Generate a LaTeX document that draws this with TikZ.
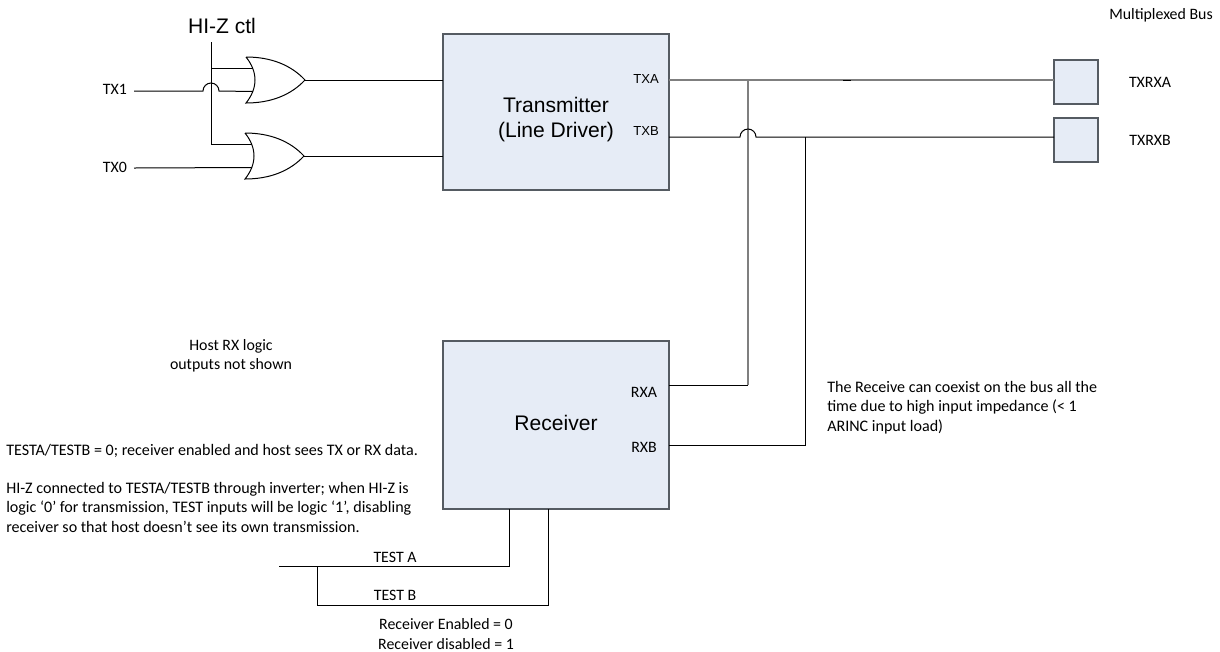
\documentclass[tikz,border=0pt]{standalone}
\usepackage{fontspec}
\setmainfont{Carlito}
\newfontfamily\arialfont{Liberation Sans}
\usetikzlibrary{positioning, calc}
\definecolor{boxfill}{HTML}{E6ECF6}
\definecolor{boxline}{HTML}{555B62}
\definecolor{busgrey}{HTML}{7F7F7F}
\tikzset{
    bigbox/.style={draw=boxline, fill=boxfill, line width=.9pt, minimum width=169.5pt, minimum height=117pt, outer sep=0pt, inner sep=0pt},
    portbox/.style={draw=boxline, fill=boxfill, line width=.9pt, minimum width=33pt, minimum height=33pt, outer sep=0pt},
    wire/.style={draw=black, line width=.75pt},
    buswire/.style={draw=busgrey, line width=1.1pt},
    bigtext/.style={font=\arialfont\fontsize{15.8}{18.6}\selectfont, align=center, inner sep=0pt},
    pintext/.style={font=\arialfont\fontsize{9.8}{12}\selectfont, inner sep=0pt},
    smalltext/.style={font=\fontsize{11.9}{14.5}\selectfont, align=center, inner sep=0pt},
    notetext/.style={font=\fontsize{12.05}{14.5}\selectfont, align=left, anchor=north west, inner sep=0pt},
    orgate/.pic={
        \draw[wire, fill=white] (0,0) .. controls (25,0) and (45,-8) .. (59,-23)
            .. controls (45,-38) and (25,-46) .. (0,-46)
            .. controls (12,-31) and (12,-15) .. (0,0);
        \coordinate (-a) at (7,-11.5);
        \coordinate (-b) at (7,-34.5);
        \coordinate (-out) at (59,-23);
    }
}
\begin{document}
\begin{tikzpicture}[x=.75pt, y=.75pt]
  \useasboundingbox (0,0) rectangle (1220,-651);

  \node(TX)[bigbox] at (556,-112){};
  \node(RX)[bigbox, minimum height=126pt] at (556,-425){};
  \node(SA)[portbox] at (1076,-82){};
  \node(SB)[portbox] at (1076,-140){};
  \node(TXT)[bigtext] at (556,-119.5){Transmitter\\(Line Driver)};
  \node(RXT)[bigtext] at (556,-423){Receiver};

  \pic (G1) at (246,-57) {orgate};
  \pic (G2) at (245,-133) {orgate};

  \node(HIZ)[bigtext] at (222,-26){HI-Z ctl};
  \node(TX1)[smalltext] at (115,-89){TX1};
  \node(TX0)[smalltext] at (115,-167){TX0};
  \node(TXA)[pintext] at (646,-79){TXA};
  \node(TXB)[pintext] at (646,-131){TXB};
  \node(RXA)[smalltext] at (644,-392){RXA};
  \node(RXB)[smalltext] at (644,-447){RXB};
  \node(TA)[smalltext] at (395,-557){TEST A};
  \node(TB)[smalltext] at (395,-595){TEST B};
  \node(BUS)[smalltext] at (1161,-15){Multiplexed Bus};
  \node(LA)[smalltext] at (1150,-82){TXRXA};
  \node(LB)[smalltext] at (1150,-140){TXRXB};
  \node(HOST)[smalltext] at (231,-356){Host RX logic\\outputs not shown};
  \node(EN)[smalltext] at (446,-634){Receiver Enabled = 0\\Receiver disabled = 1};
  \node(N1)[notetext] at (827,-381){The Receive can coexist on the bus all the\\time due to high input impedance (< 1\\ARINC input load)};
  \node(N2)[notetext] at (6,-444){TESTA/TESTB = 0; receiver enabled and host sees TX or RX data.};
  \node(N3)[notetext] at (6,-482){HI-Z connected to TESTA/TESTB through inverter; when HI-Z is\\logic ‘0’ for transmission, TEST inputs will be logic ‘1’, disabling\\receiver so that host doesn’t see its own transmission.};

  \coordinate (hiztop) at (211,-42);
  \coordinate (tx1end) at (134,-91);
  \coordinate (tx0end) at (134,-168);
  \coordinate (hop1) at (hiztop |- tx1end);
  \coordinate (txap) at (TX.east |- 0,-80);
  \coordinate (txbp) at (TX.east |- 0,-137);
  \coordinate (rxap) at (RX.east |- 0,-385);
  \coordinate (rxbp) at (RX.east |- 0,-445);
  \coordinate (busa) at (748,-80);
  \coordinate (hop2) at (busa |- txbp);
  \coordinate (busb) at (805,-137);
  \coordinate (testa) at (279,-566);
  \coordinate (testj) at (317,-566);
  \coordinate (testb) at (317,-605);

  % gate inputs
  \draw[wire](hiztop)--(hiztop |- G2-a)--(G2-a);
  \draw[wire](hiztop |- G1-a)--(G1-a);
  \draw[wire](tx1end)--($(hop1)+(-8,0)$) arc[start angle=180, end angle=0, radius=8]--(G1-b);
  \draw[wire](tx0end)--(G2-b);
  \draw[wire](G1-out)--(G1-out -| TX.west);
  \draw[wire](G2-out)--(G2-out -| TX.west);

  % bus
  \draw[buswire](txap)--(txap -| SA.west);
  \draw[buswire](busa)--(busa |- rxap);
  \draw[wire](busa |- rxap)--(rxap);
  \draw[wire](843,-80)--(851,-80);
  \draw[wire](txbp)--($(hop2)+(-8,0)$) arc[start angle=180, end angle=0, radius=8]--(txbp -| SB.west);
  \draw[wire](busb)--(busb |- rxbp)--(rxbp);

  % test inputs
  \draw[wire](testa)--(testa -| 509,0)--(509,0 |- RX.south);
  \draw[wire](testj)--(testb)--(testb -| 548,0)--(548,0 |- RX.south);
\end{tikzpicture}
\end{document}
